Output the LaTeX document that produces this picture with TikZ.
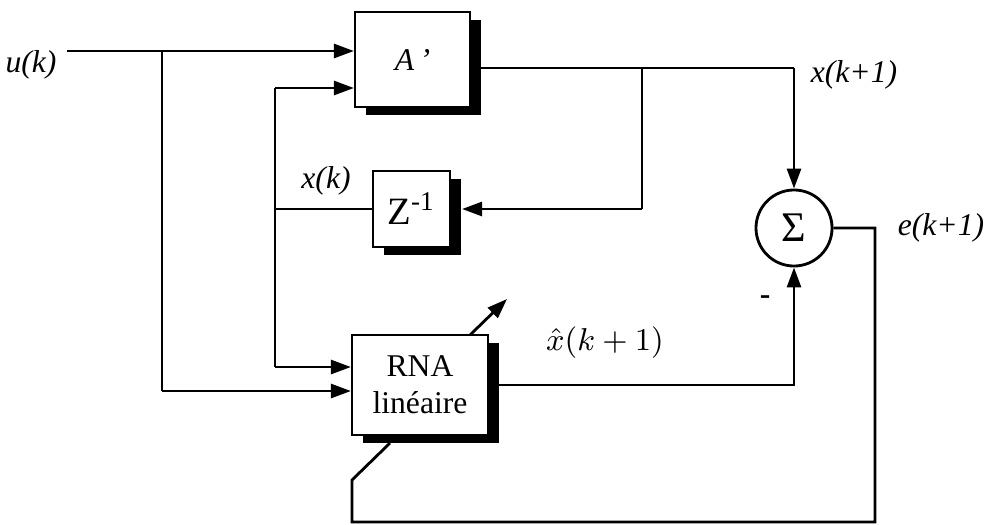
\documentclass[tikz,border=0pt]{standalone}
\usepackage{fontspec}
\setmainfont{Liberation Serif}
\usepackage{tikz}
\usetikzlibrary{arrows.meta,shadows}

\begin{document}
\begin{tikzpicture}[
    x=0.01cm, y=-0.01cm,
    blockbox/.style={
        draw=black,
        fill=white,
        line width=0.6pt,
        inner sep=0pt,
        align=center,
        font=\fontsize{9}{10.5}\selectfont,
        drop shadow={shadow xshift=0.11cm, shadow yshift=-0.08cm, fill=black, opacity=1}
    },
    sumnode/.style={
        draw=black,
        circle,
        line width=0.8pt,
        minimum size=0.76cm,
        inner sep=0pt,
        font=\fontsize{12}{12}\selectfont
    },
    siglabel/.style={
        font=\fontsize{9}{10}\selectfont\itshape,
        inner sep=0pt
    },
    sigline/.style={
        line width=0.8pt
    },
    sigarrow/.style={
        -{Triangle[length=2mm,width=1.4mm]},
        line width=0.8pt
    }
]
    \useasboundingbox (0,0) rectangle (986,524);

    % --- BLOCKS ---
    \node[blockbox, minimum width=1.15cm, minimum height=0.95cm] (apr) at (412.5, 59.5) {\textit{A}\,\textit{'}};
    \node[blockbox, minimum width=0.77cm, minimum height=0.76cm, font=\fontsize{11}{12}\selectfont] (zinv) at (411.5, 209) {Z\textsuperscript{-1}};
    \node[blockbox, minimum width=1.36cm, minimum height=1.0cm] (rna) at (420, 385) {RNA\\lin\'eaire};
    \node[sumnode] (sum) at (794, 228) {Σ};

    % --- BRANCH POINTS ---
    \coordinate (uin) at (67, 51);
    \coordinate (ubr) at (162, 51);
    \coordinate (ubot) at (162, 391);
    \coordinate (xtop) at (275, 88);
    \coordinate (xmid) at (275, 209);
    \coordinate (xbot) at (275, 367);
    \coordinate (xnext) at (642, 68);
    \coordinate (xcorner) at (794, 68);
    \coordinate (zfb) at (642, 209);
    \coordinate (ebot) at (875, 522);
    \coordinate (fbk) at (352, 480);
    \coordinate (adin) at (390, 443);
    \coordinate (adtail) at (470, 335);
    \coordinate (adhead) at (507, 299);

    % --- INPUTS ---
    \draw[sigarrow] (uin) -- (apr.west |- uin);
    \draw[sigline] (ubr) -- (ubot);
    \draw[sigarrow] (ubot) -- (rna.west |- ubot);
    \draw[sigarrow] (xtop) -- (apr.west |- xtop);
    \draw[sigline] (xtop) -- (xbot);
    \draw[sigline] (xmid) -- (zinv.west);
    \draw[sigarrow] (xbot) -- (rna.west |- xbot);

    % --- STATE LOOP ---
    \draw[sigline] (apr.east |- xnext) -- (xcorner);
    \draw[sigarrow] (xcorner) -- (sum.north);
    \draw[sigline] (xnext) -- (zfb);
    \draw[sigarrow] (zfb) -- ([xshift=0.11cm]zinv.east);

    % --- ESTIMATE AND ERROR ---
    \draw[sigarrow] (rna.east) -- (rna.east -| sum) -- (sum.south);
    \draw[sigline] (sum.east) -| (ebot) -| (fbk) -- (adin);
    \draw[sigarrow] (adtail) -- (adhead);

    % --- LABELS ---
    \node[siglabel] (ulab) at (31, 65) {u(k)};
    \node[siglabel] (xklab) at (326, 181) {x(k)};
    \node[siglabel] (xnlab) at (854, 75) {x(k+1)};
    \node[siglabel] (elab) at (941, 228) {e(k+1)};
    \node[siglabel, font=\fontsize{9}{10}\selectfont] (xhlab) at (605, 343) {$\hat{x}(k+1)$};
    \node[siglabel, font=\fontsize{9}{10}\selectfont\bfseries] (minus) at (765, 300) {-};
\end{tikzpicture}
\end{document}
